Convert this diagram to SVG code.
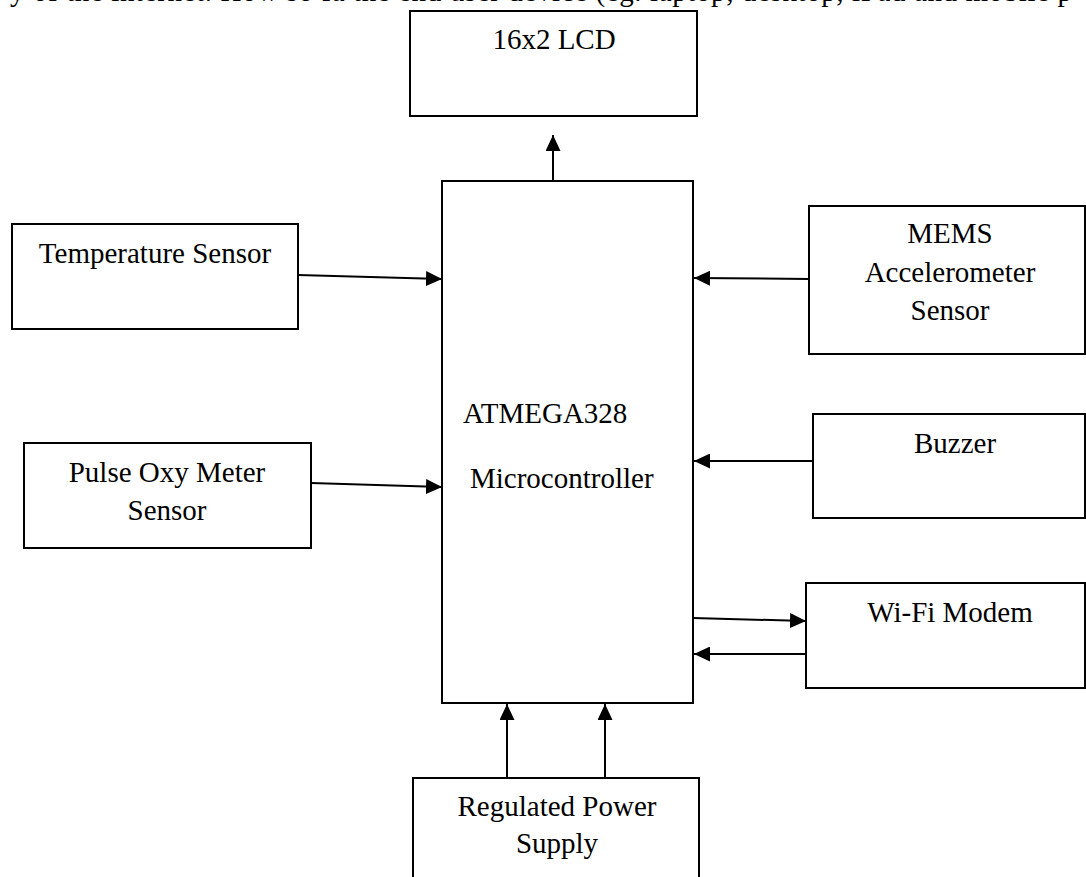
<svg xmlns="http://www.w3.org/2000/svg" width="1086" height="877" viewBox="0 0 1086 877">
<style>
text{font-family:"Liberation Serif","Times New Roman",serif;font-size:29px;fill:#000}
.box{fill:#fff;stroke:#000;stroke-width:2}
.c{text-anchor:middle}
.ln{stroke:#000;stroke-width:2;fill:none}
</style>
<defs>
<marker id="ah" markerUnits="userSpaceOnUse" markerWidth="17" markerHeight="15" refX="16" refY="7.5" orient="auto">
<path d="M0,0 L16,7.5 L0,15 Z" fill="#000"/>
</marker>
</defs>
<rect width="1086" height="877" fill="#fff"/>
<text x="10" y="1" textLength="1062" lengthAdjust="spacing">y of the internet. How so fa the end user device (eg. laptop, desktop, iPad and mobile p</text>
<g id="lcd"><rect class="box" x="410" y="11" width="287" height="105"/><text class="c" x="554" y="49">16x2 LCD</text></g>
<g id="mcu"><rect class="box" x="442" y="181" width="251" height="522"/><text x="463" y="423">ATMEGA328</text><text x="470" y="488">Microcontroller</text></g>
<g id="temp"><rect class="box" x="12" y="224" width="286" height="105"/><text class="c" x="155" y="263">Temperature Sensor</text></g>
<g id="pulse"><rect class="box" x="24" y="443" width="287" height="105"/><text class="c" x="167" y="482">Pulse Oxy Meter</text><text class="c" x="167" y="520">Sensor</text></g>
<g id="mems"><rect class="box" x="809" y="206" width="276" height="148"/><text class="c" x="950" y="243">MEMS</text><text class="c" x="950" y="282">Accelerometer</text><text class="c" x="950" y="320">Sensor</text></g>
<g id="buzzer"><rect class="box" x="813" y="414" width="272" height="104"/><text class="c" x="955" y="453">Buzzer</text></g>
<g id="wifi"><rect class="box" x="806" y="583" width="279" height="105"/><text class="c" x="950" y="622">Wi-Fi Modem</text></g>
<g id="power"><rect class="box" x="413" y="778" width="286" height="110"/><text class="c" x="557" y="816">Regulated Power</text><text class="c" x="557" y="853">Supply</text></g>
<g id="connectors">
<line class="ln" x1="553" y1="181" x2="553" y2="135" marker-end="url(#ah)"/>
<line class="ln" x1="298" y1="275" x2="442" y2="279" marker-end="url(#ah)"/>
<line class="ln" x1="311" y1="483" x2="442" y2="487" marker-end="url(#ah)"/>
<line class="ln" x1="809" y1="279" x2="694" y2="278" marker-end="url(#ah)"/>
<line class="ln" x1="813" y1="461" x2="694" y2="461" marker-end="url(#ah)"/>
<line class="ln" x1="693" y1="618" x2="806" y2="621" marker-end="url(#ah)"/>
<line class="ln" x1="806" y1="654" x2="694" y2="654" marker-end="url(#ah)"/>
<line class="ln" x1="507" y1="778" x2="507" y2="704" marker-end="url(#ah)"/>
<line class="ln" x1="605" y1="778" x2="605" y2="704" marker-end="url(#ah)"/>
</g>
</svg>
